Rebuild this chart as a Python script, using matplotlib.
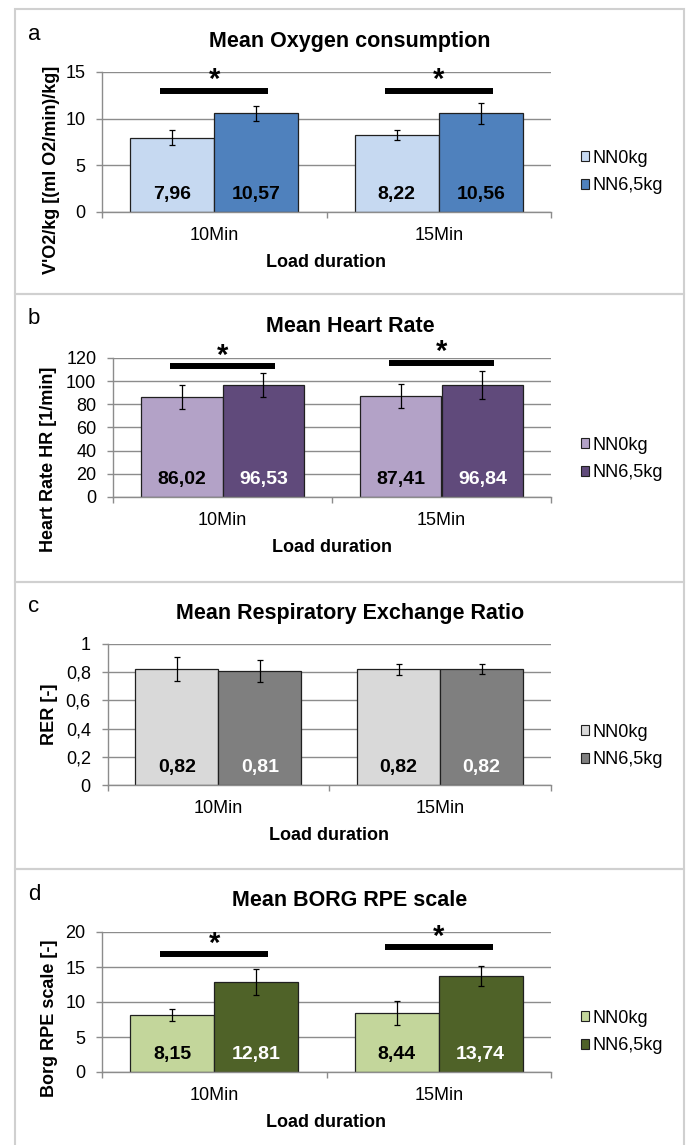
import numpy as np
import matplotlib
matplotlib.use("Agg")
import matplotlib.pyplot as plt
from matplotlib.patches import Rectangle
from matplotlib.ticker import FuncFormatter

plt.rcParams['font.family'] = ['Liberation Sans', 'DejaVu Sans']

W, H = 687, 1145

categories = ['10Min', '15Min']
groups = ['NN0kg', 'NN6,5kg']

# a - oxygen consumption
vo2_0 = [7.96, 8.22]
vo2_65 = [10.57, 10.56]
vo2_sd0 = [0.83, 0.53]
vo2_sd65 = [0.80, 1.15]
vo2_sig = [13.0, 13.0]

# b - heart rate
hr_0 = [86.02, 87.41]
hr_65 = [96.53, 96.84]
hr_sd0 = [10.3, 10.2]
hr_sd65 = [10.3, 12.1]
hr_sig = [112.9, 115.5]

# c - RER
rer_0 = [0.82, 0.82]
rer_65 = [0.81, 0.82]
rer_sd0 = [0.085, 0.04]
rer_sd65 = [0.08, 0.035]
rer_sig = []

# d - Borg
borg_0 = [8.15, 8.44]
borg_65 = [12.81, 13.74]
borg_sd0 = [0.8, 1.77]
borg_sd65 = [1.88, 1.45]
borg_sig = [16.8, 17.8]

panels = [
    dict(letter='a', title='Mean Oxygen consumption', ylabel="V'O2/kg [(ml O2/min)/kg]",
         v0=vo2_0, v1=vo2_65, e0=vo2_sd0, e1=vo2_sd65, sig=vo2_sig, ymax=15, step=5,
         cols=('#C6D9F1', '#4F81BD'), tcols=('black', 'black'),
         box=(102, 551, 72, 212), top=9, bot=294, ylab=(51, 170), leg=172),
    dict(letter='b', title='Mean Heart Rate', ylabel='Heart Rate HR [1/min]',
         v0=hr_0, v1=hr_65, e0=hr_sd0, e1=hr_sd65, sig=hr_sig, ymax=120, step=20,
         cols=('#B3A2C7', '#604A7B'), tcols=('black', 'white'),
         box=(113, 551, 358, 497), top=294, bot=582, ylab=(49, 459), leg=459),
    dict(letter='c', title='Mean Respiratory Exchange Ratio', ylabel='RER [-]',
         v0=rer_0, v1=rer_65, e0=rer_sd0, e1=rer_sd65, sig=rer_sig, ymax=1, step=0.2,
         cols=('#D9D9D9', '#7F7F7F'), tcols=('black', 'white'),
         box=(107.5, 551, 644, 785), top=582, bot=869, ylab=(50, 714), leg=746),
    dict(letter='d', title='Mean BORG RPE scale', ylabel='Borg RPE scale [-]',
         v0=borg_0, v1=borg_65, e0=borg_sd0, e1=borg_sd65, sig=borg_sig, ymax=20, step=5,
         cols=('#C3D69B', '#4F6228'), tcols=('black', 'white'),
         box=(102, 551, 932, 1072), top=869, bot=1160, ylab=(50, 1018), leg=1032),
]

fig = plt.figure(figsize=(W / 100, H / 100), dpi=100)
grid_col = '#8C8C8C'
comma = FuncFormatter(lambda v, p: f'{v:g}'.replace('.', ','))
w = 0.374
x = np.arange(len(categories))

for p in panels:
    x0, x1, y0, y1 = p['box']
    # panel frame
    fig.patches.append(Rectangle((15 / W, 1 - p['bot'] / H), (684 - 15) / W, (p['bot'] - p['top']) / H,
                                 transform=fig.transFigure, fill=False, ec='#D0D0D0', lw=1.5))
    ax = fig.add_axes([x0 / W, 1 - y1 / H, (x1 - x0) / W, (y1 - y0) / H])
    ax.set_axisbelow(True)
    ek = dict(ecolor='black', elinewidth=0.9, capsize=2.5, capthick=0.9)
    b0 = ax.bar(x - w / 2, p['v0'], w, yerr=p['e0'], color=p['cols'][0], edgecolor='#202020', lw=0.9, error_kw=ek)
    b1 = ax.bar(x + w / 2, p['v1'], w, yerr=p['e1'], color=p['cols'][1], edgecolor='#202020', lw=0.9, error_kw=ek)
    for xs, vals, tc in [(x - w / 2, p['v0'], p['tcols'][0]), (x + w / 2, p['v1'], p['tcols'][1])]:
        for xi, v in zip(xs, vals):
            ax.text(xi, 0.09, f'{v:.2f}'.replace('.', ','), transform=ax.get_xaxis_transform(),
                    ha='center', va='baseline', fontsize=14, fontweight='bold', color=tc)
    for i, sy in enumerate(p['sig']):
        ax.plot([i - 0.24, i + 0.24], [sy, sy], color='black', lw=4.3, solid_capstyle='butt', clip_on=False)
        ax.annotate('*', (i, sy), xytext=(0, 2), textcoords='offset points', ha='center', va='baseline',
                    fontsize=21, fontweight='bold', annotation_clip=False)

    ax.set_xlim(-0.5, 1.5)
    ax.set_ylim(0, p['ymax'])
    ax.set_yticks(np.arange(0, p['ymax'] + p['step'] / 2, p['step']))
    ax.yaxis.set_major_formatter(comma)
    ax.set_xticks(x)
    ax.set_xticklabels(categories)
    ax.set_xticks([-0.5, 0.5, 1.5], minor=True)
    ax.yaxis.grid(True, color=grid_col, lw=1)
    for s in ['top', 'right']:
        ax.spines[s].set_visible(False)
    for s in ['left', 'bottom']:
        ax.spines[s].set_color(grid_col)
        ax.spines[s].set_linewidth(1)
    ax.tick_params(axis='y', length=4, color=grid_col, width=1, pad=8, labelsize=13)
    ax.tick_params(axis='x', which='major', length=0, pad=11, labelsize=13)
    ax.tick_params(axis='x', which='minor', length=4, color=grid_col, width=1)

    fig.text(28 / W, 1 - (p['top'] + 25) / H, p['letter'], fontsize=16, va='center', ha='left')
    fig.text(350 / W, 1 - (p['top'] + 37.5) / H, p['title'], fontsize=15.5, fontweight='bold',
             ha='center', va='baseline')
    fig.text(p['ylab'][0] / W, 1 - p['ylab'][1] / H, p['ylabel'], rotation=90, fontsize=13,
             fontweight='bold', ha='center', va='center')
    fig.text((x0 + x1) / 2 / W, 1 - (y1 + 55) / H, 'Load duration', fontsize=13, fontweight='bold',
             ha='center', va='baseline')

    handles = [Rectangle((0, 0), 1, 1, fc=c, ec='#202020', lw=0.8) for c in p['cols']]
    ax.legend(handles, groups, loc='center left', bbox_to_anchor=(581 / W, 1 - p['leg'] / H),
              bbox_transform=fig.transFigure, frameon=False, fontsize=13, handlelength=0.45,
              handleheight=0.45, handletextpad=0.2, labelspacing=0.6, borderpad=0, borderaxespad=0)

fig.savefig('out.png', dpi=100)
